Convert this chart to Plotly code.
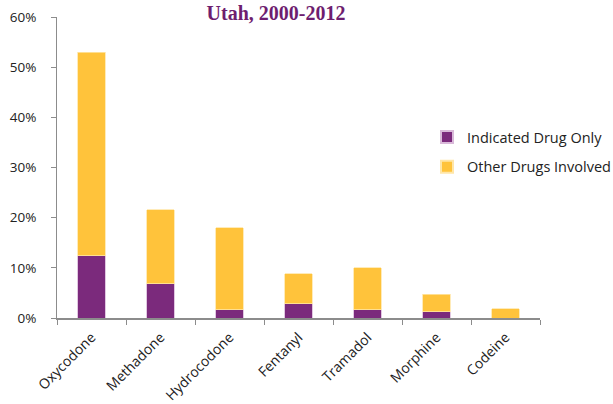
import plotly.graph_objects as go

drugs = ["Oxycodone", "Methadone", "Hydrocodone", "Fentanyl", "Tramadol", "Morphine", "Codeine"]
indicated_only = [12.4, 6.8, 1.6, 2.8, 1.6, 1.2, 0.0]
other_involved = [40.6, 14.8, 16.4, 6.0, 8.4, 3.5, 1.85]
y_ticks = [0, 10, 20, 30, 40, 50, 60]

PURPLE = "#7B2A7C"
GOLD = "#FFC33B"
AXIS = "#8C8C8C"
FONT = "Open Sans"

fig = go.Figure()
fig.add_trace(go.Bar(
    x=drugs, y=indicated_only, name="Indicated Drug Only", legendgroup="a",
    marker=dict(color=PURPLE, line=dict(color="#D9B9D9", width=0.8)),
))
fig.add_trace(go.Bar(
    x=drugs, y=other_involved, name="Other Drugs Involved", legendgroup="b",
    marker=dict(color=GOLD, line=dict(color="#FFE6A8", width=0.8)),
))

fig.update_layout(
    barmode="stack",
    bargap=0.6,
    width=613, height=404,
    margin=dict(l=57, r=73, t=17, b=86, autoexpand=False),
    plot_bgcolor="white", paper_bgcolor="white",
    font=dict(family=FONT, size=13, color="#222222"),
    title=dict(
        text="<b>Utah, 2000-2012</b>",
        font=dict(family="Liberation Serif", size=20, color="#6E1E6F"),
        x=276 / 613, xanchor="center", y=1 - 13 / 404, yanchor="middle",
    ),
    legend=dict(
        xref="container", yref="container",
        x=427 / 613, y=1 - 121 / 404, xanchor="left", yanchor="top",
        font=dict(family=FONT, size=14.5, color="#222222"),
        itemsizing="constant", tracegroupgap=8, traceorder="grouped",
        itemwidth=30,
        bgcolor="rgba(0,0,0,0)",
    ),
    xaxis=dict(
        showline=True, linecolor=AXIS, linewidth=1.5,
        ticks="outside", tickson="boundaries", ticklen=5, tickcolor=AXIS,
        tickangle=-45, showgrid=False, automargin=False,
        ticklabelstandoff=4,
        tickfont=dict(size=14),
    ),
    yaxis=dict(
        range=[0, 60], tickvals=y_ticks, ticktext=[f"{v}%" for v in y_ticks],
        showline=True, linecolor=AXIS, linewidth=1,
        ticks="outside", ticklen=5, tickcolor=AXIS, ticklabelstandoff=12,
        showgrid=False, zeroline=False, automargin=False,
        tickfont=dict(size=13.5),
    ),
)

fig.write_html("out.html")
